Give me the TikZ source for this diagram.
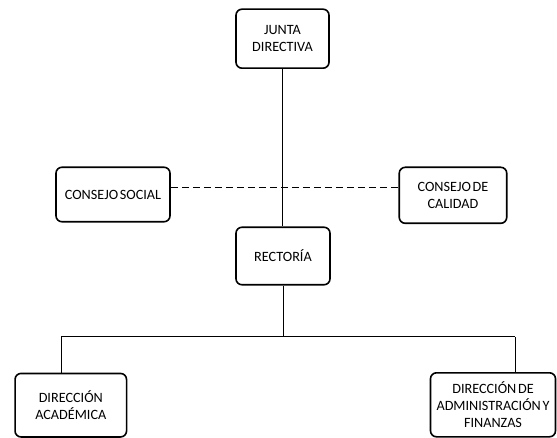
\documentclass[tikz,border=0pt]{standalone}
\usepackage{fontspec}
\setmainfont{Carlito}
\usetikzlibrary{positioning}

\begin{document}
\begin{tikzpicture}[x=1pt, y=-1pt,
        cargo/.style={draw, rectangle, rounded corners=6pt, line width=1.6pt, align=center, inner sep=0pt, font=\fontsize{14.2}{17}\selectfont, text=black, execute at begin node={\spaceskip=0.12em\relax}},
        enlace/.style={line width=1pt}]
    \useasboundingbox (0,0) rectangle (557,438);
    \node[cargo, minimum width=93pt, minimum height=59pt] (junta) at (282.5,38.7) {JUNTA\\DIRECTIVA};
    \node[cargo, minimum width=114pt, minimum height=54.5pt] (social) at (113,194.5) {CONSEJO SOCIAL};
    \node[cargo, minimum width=107.5pt, minimum height=56pt] (calidad) at (453,195.3) {CONSEJO DE\\CALIDAD};
    \node[cargo, minimum width=94pt, minimum height=57.5pt] (rectoria) at (283,256) {RECTORÍA};
    \node[cargo, minimum width=111.5pt, minimum height=63.5pt] (academica) at (70.8,405.2) {DIRECCIÓN\\ACADÉMICA};
    \node[cargo, minimum width=125pt, minimum height=64pt] (admin) at (493,404.8) {DIRECCIÓN DE\\ADMINISTRACIÓN Y\\FINANZAS};
    % puntos de la linea horizontal
    \coordinate (consejos) at (0,187.3);
    \coordinate (ramaizq) at (61,337);
    \coordinate (ramader) at (515,337);
    \draw[enlace] (junta.south) -- (junta.south |- rectoria.north);
    \draw[enlace, dash pattern=on 7pt off 4pt] (social.east |- consejos) -- (calidad.west |- consejos);
    \draw[enlace] (rectoria.south) -- (rectoria.south |- ramaizq);
    \draw[enlace] (ramaizq) -- (ramader);
    \draw[enlace] (ramaizq) -- (ramaizq |- academica.north);
    \draw[enlace] (ramader) -- (ramader |- admin.north);
\end{tikzpicture}
\end{document}
